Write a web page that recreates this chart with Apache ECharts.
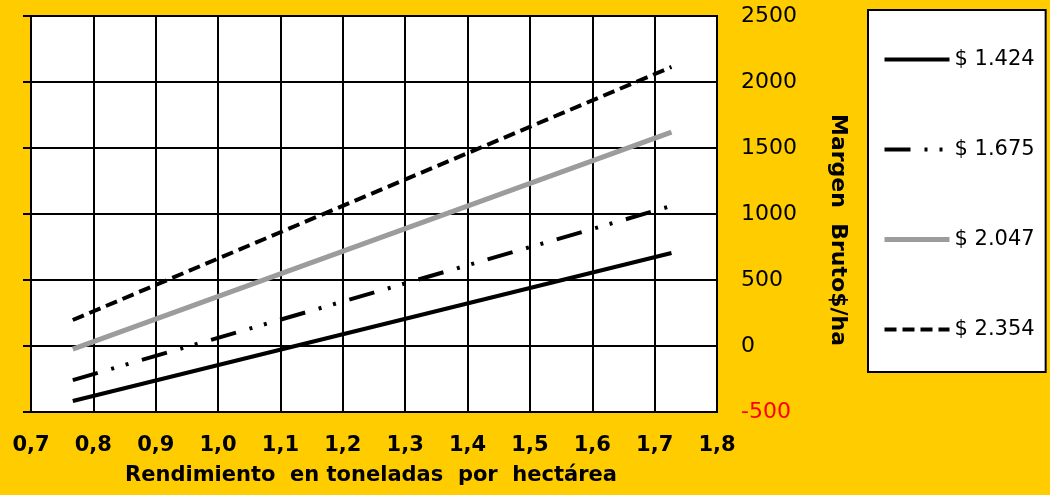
<!DOCTYPE html>
<html>
<head>
<meta charset="utf-8">
<script src="https://cdn.jsdelivr.net/npm/echarts@6/dist/echarts.min.js"></script>
<style>
html,body{margin:0;padding:0;background:#FFCC00;}
#chart{width:1050px;height:495px;}
</style>
</head>
<body>
<div id="chart"></div>
<script>
// Data
const yields = [0.767, 1.727];               // t/ha (start, end of each line)
const seriesNames = ['$ 1.424', '$ 1.675', '$ 2.047', '$ 2.354'];
const margin1424 = [-417, 705];
const margin1675 = [-258, 1061];
const margin2047 = [-23, 1621];
const margin2354 = [197, 2114];
const xTicks = [0.7, 0.8, 0.9, 1.0, 1.1, 1.2, 1.3, 1.4, 1.5, 1.6, 1.7, 1.8];
const yTicks = [-500, 0, 500, 1000, 1500, 2000, 2500];
const xTitle = 'Rendimiento  en toneladas  por  hectárea';
const yTitle = 'Margen  Bruto$/ha';

const FONT = '"DejaVu Sans", Verdana, sans-serif';
const pairs = (ys) => yields.map((x, i) => [x, ys[i]]);

const styles = [
  { color: '#000', width: 4, type: 'solid' },
  { color: '#000', width: 4, type: [26, 14, 3, 12, 3, 14] },
  { color: '#9c9c9c', width: 5, type: 'solid' },
  { color: '#000', width: 4, type: [12, 6] }
];
const dataSets = [margin1424, margin1675, margin2047, margin2354];

const chart = echarts.init(document.getElementById('chart'));

const option = {
  backgroundColor: '#FFCC00',
  animation: false,
  grid: {
    left: 31, top: 16, width: 686, height: 396,
    show: true, backgroundColor: '#ffffff', borderColor: '#000', borderWidth: 2
  },
  xAxis: [{
    type: 'value', min: xTicks[0], max: xTicks[xTicks.length - 1], interval: 0.1,
    position: 'bottom',
    axisLine: { show: false },
    axisTick: { show: false },
    splitLine: { show: true, lineStyle: { color: '#000', width: 2 } },
    axisLabel: {
      margin: 23, color: '#000', fontFamily: FONT, fontWeight: 'bold', fontSize: 21,
      formatter: v => v.toFixed(1).replace('.', ',')
    }
  }, {
    type: 'value', min: xTicks[0], max: xTicks[xTicks.length - 1], interval: 0.1,
    position: 'top',
    axisLine: { show: false },
    axisTick: { show: true, inside: false, length: 8, lineStyle: { color: '#000', width: 2 } },
    splitLine: { show: false },
    axisLabel: { show: false }
  }],
  yAxis: [{
    type: 'value', min: yTicks[0], max: yTicks[yTicks.length - 1], interval: 500,
    position: 'right',
    axisLine: { show: false },
    axisTick: { show: false },
    splitLine: { show: true, lineStyle: { color: '#000', width: 2 } },
    axisLabel: {
      margin: 24, fontFamily: FONT, fontSize: 22,
      formatter: v => String(v),
      color: v => (Number(v) < 0 ? '#FF0000' : '#000')
    }
  }, {
    type: 'value', min: yTicks[0], max: yTicks[yTicks.length - 1], interval: 500,
    position: 'left',
    axisLine: { show: false },
    axisTick: { show: true, inside: false, length: 8, lineStyle: { color: '#000', width: 2 } },
    splitLine: { show: false },
    axisLabel: { show: false }
  }],
  legend: {
    orient: 'vertical', left: 868, top: 10,
    backgroundColor: '#fff', borderColor: '#000', borderWidth: 2,
    padding: [39, 11, 32, 14],
    itemWidth: 65, itemHeight: 14, itemGap: 69,
    textStyle: { fontFamily: FONT, fontSize: 21, color: '#000' },
    data: seriesNames.map((n, i) => ({
      name: n,
      itemStyle: { opacity: 0 },
      lineStyle: { color: styles[i].color, width: styles[i].width, type: styles[i].type }
    }))
  },
  graphic: [{
    type: 'text', x: 371, y: 476,
    style: { text: xTitle, font: 'bold 21px ' + FONT, fill: '#000', align: 'center', verticalAlign: 'middle' }
  }, {
    type: 'text', x: 838, y: 230, rotation: -Math.PI / 2,
    style: { text: yTitle, font: 'bold 22px ' + FONT, fill: '#000', align: 'center', verticalAlign: 'middle' }
  }],
  series: seriesNames.map((n, i) => ({
    name: n, type: 'line', symbol: 'none', data: pairs(dataSets[i]),
    itemStyle: { color: styles[i].color },
    lineStyle: { color: styles[i].color, width: styles[i].width, type: styles[i].type }
  }))
};
chart.setOption(option);
</script>
</body>
</html>
